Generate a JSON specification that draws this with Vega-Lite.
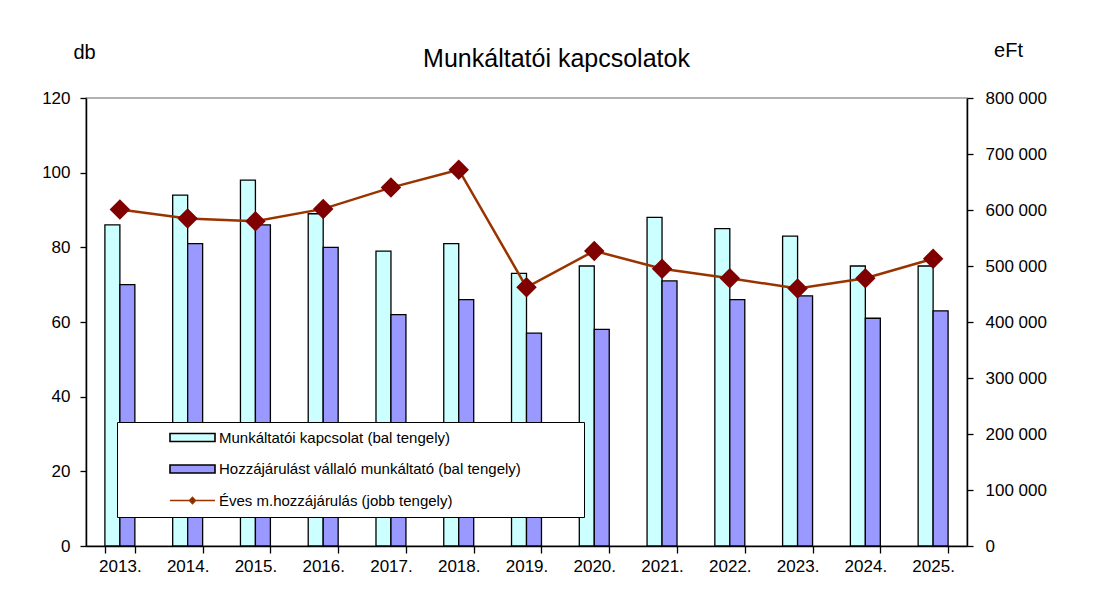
{
  "$schema": "https://vega.github.io/schema/vega-lite/v6.json",
  "width": 881,
  "height": 448,
  "autosize": {"type": "none"},
  "padding": {"left": 86, "top": 98, "right": 132, "bottom": 69},
  "background": "white",
  "title": {
    "text": "Munkáltatói  kapcsolatok",
    "font": "Liberation Sans",
    "fontSize": 25,
    "fontWeight": "normal",
    "color": "black",
    "anchor": "middle",
    "dx": 30,
    "offset": -32
  },
  "datasets": {
    "bars": [
      {"year": "2013.", "series": "Munkáltatói kapcsolat (bal tengely)", "value": 86},
      {"year": "2013.", "series": "Hozzájárulást vállaló munkáltató (bal tengely)", "value": 70},
      {"year": "2014.", "series": "Munkáltatói kapcsolat (bal tengely)", "value": 94},
      {"year": "2014.", "series": "Hozzájárulást vállaló munkáltató (bal tengely)", "value": 81},
      {"year": "2015.", "series": "Munkáltatói kapcsolat (bal tengely)", "value": 98},
      {"year": "2015.", "series": "Hozzájárulást vállaló munkáltató (bal tengely)", "value": 86},
      {"year": "2016.", "series": "Munkáltatói kapcsolat (bal tengely)", "value": 89},
      {"year": "2016.", "series": "Hozzájárulást vállaló munkáltató (bal tengely)", "value": 80},
      {"year": "2017.", "series": "Munkáltatói kapcsolat (bal tengely)", "value": 79},
      {"year": "2017.", "series": "Hozzájárulást vállaló munkáltató (bal tengely)", "value": 62},
      {"year": "2018.", "series": "Munkáltatói kapcsolat (bal tengely)", "value": 81},
      {"year": "2018.", "series": "Hozzájárulást vállaló munkáltató (bal tengely)", "value": 66},
      {"year": "2019.", "series": "Munkáltatói kapcsolat (bal tengely)", "value": 73},
      {"year": "2019.", "series": "Hozzájárulást vállaló munkáltató (bal tengely)", "value": 57},
      {"year": "2020.", "series": "Munkáltatói kapcsolat (bal tengely)", "value": 75},
      {"year": "2020.", "series": "Hozzájárulást vállaló munkáltató (bal tengely)", "value": 58},
      {"year": "2021.", "series": "Munkáltatói kapcsolat (bal tengely)", "value": 88},
      {"year": "2021.", "series": "Hozzájárulást vállaló munkáltató (bal tengely)", "value": 71},
      {"year": "2022.", "series": "Munkáltatói kapcsolat (bal tengely)", "value": 85},
      {"year": "2022.", "series": "Hozzájárulást vállaló munkáltató (bal tengely)", "value": 66},
      {"year": "2023.", "series": "Munkáltatói kapcsolat (bal tengely)", "value": 83},
      {"year": "2023.", "series": "Hozzájárulást vállaló munkáltató (bal tengely)", "value": 67},
      {"year": "2024.", "series": "Munkáltatói kapcsolat (bal tengely)", "value": 75},
      {"year": "2024.", "series": "Hozzájárulást vállaló munkáltató (bal tengely)", "value": 61},
      {"year": "2025.", "series": "Munkáltatói kapcsolat (bal tengely)", "value": 75},
      {"year": "2025.", "series": "Hozzájárulást vállaló munkáltató (bal tengely)", "value": 63}
    ],
    "line": [
      {"year": "2013.", "value": 601000},
      {"year": "2014.", "value": 585000},
      {"year": "2015.", "value": 580000},
      {"year": "2016.", "value": 602000},
      {"year": "2017.", "value": 640000},
      {"year": "2018.", "value": 672000},
      {"year": "2019.", "value": 462000},
      {"year": "2020.", "value": 527000},
      {"year": "2021.", "value": 495000},
      {"year": "2022.", "value": 478000},
      {"year": "2023.", "value": 460000},
      {"year": "2024.", "value": 478000},
      {"year": "2025.", "value": 513000}
    ]
  },
  "encoding": {
    "x": {
      "field": "year",
      "type": "nominal",
      "sort": null,
      "scale": {"paddingInner": 0.558, "paddingOuter": 0.279},
      "axis": {
        "title": null,
        "labelAngle": 0,
        "tickBand": "extent",
        "tickSize": 7,
        "labelPadding": 5
      }
    }
  },
  "layer": [
    {
      "data": {"name": "bars"},
      "mark": {"type": "bar", "stroke": "black", "strokeWidth": 1.3},
      "encoding": {
        "xOffset": {
          "field": "series",
          "type": "nominal",
          "sort": ["Munkáltatói kapcsolat (bal tengely)", "Hozzájárulást vállaló munkáltató (bal tengely)"],
          "scale": {"paddingInner": 0, "paddingOuter": 0}
        },
        "y": {
          "field": "value",
          "type": "quantitative",
          "scale": {"domain": [0, 120]},
          "axis": {
            "values": [0, 20, 40, 60, 80, 100, 120],
            "title": "db",
            "titleAngle": 0,
            "titleAlign": "center",
            "titleBaseline": "middle",
            "titleX": -2,
            "titleY": -46,
            "labelPadding": 10,
            "tickSize": 6
          }
        },
        "color": {
          "field": "series",
          "type": "nominal",
          "scale": {
            "domain": ["Munkáltatói kapcsolat (bal tengely)", "Hozzájárulást vállaló munkáltató (bal tengely)", "Éves m.hozzájárulás (jobb tengely)"],
            "range": ["#CCFFFF", "#9999FF", "#800000"]
          },
          "legend": {
            "orient": "none",
            "legendX": 31,
            "legendY": 324,
            "title": null,
            "padding": 8,
            "fillColor": "white",
            "strokeColor": "black",
            "symbolType": {"expr": "datum.value === 'Éves m.hozzájárulás (jobb tengely)' ? 'M-4.5,0H4.5M0,-0.6L0.6,0L0,0.6L-0.6,0Z' : 'M-4.5,-0.8H4.5V0.8H-4.5Z'"},
            "symbolStrokeColor": {"expr": "datum.value === 'Éves m.hozzájárulás (jobb tengely)' ? '#993300' : 'black'"},
            "symbolStrokeWidth": 1.6,
            "symbolSize": 100,
            "symbolOffset": 60,
            "labelOffset": 19,
            "rowPadding": 15.5,
            "labelFont": "Liberation Sans",
            "labelFontSize": 15,
            "labelColor": "black",
            "labelLimit": 0,
            "labelExpr": "datum.label + '\u2800\u2800\u2800\u2800\u2800'"
          }
        }
      }
    },
    {
      "data": {"name": "line"},
      "encoding": {
        "y": {
          "field": "value",
          "type": "quantitative",
          "scale": {"domain": [0, 800000]},
          "axis": {
            "orient": "right",
            "values": [0, 100000, 200000, 300000, 400000, 500000, 600000, 700000, 800000],
            "labelExpr": "replace(format(datum.value, ','), /,/g, ' ')",
            "title": "eFt",
            "titleAngle": 0,
            "titleAlign": "center",
            "titleBaseline": "middle",
            "titleX": 41,
            "titleY": -48,
            "labelPadding": 12,
            "tickSize": 6
          }
        }
      },
      "layer": [
        {"mark": {"type": "line", "color": "#993300", "strokeWidth": 2.5}},
        {"mark": {"type": "point", "shape": "diamond", "filled": true, "color": "#800000", "size": 420, "opacity": 1}}
      ]
    }
  ],
  "resolve": {"scale": {"y": "independent"}, "axis": {"y": "independent"}},
  "config": {
    "font": "Liberation Sans",
    "view": {"stroke": "#999999", "strokeWidth": 1.5},
    "axis": {
      "grid": false,
      "domainColor": "black",
      "domainWidth": 1.5,
      "tickColor": "black",
      "tickWidth": 1.3,
      "labelFont": "Liberation Sans",
      "labelFontSize": 17,
      "labelColor": "black",
      "titleFont": "Liberation Sans",
      "titleFontSize": 20,
      "titleFontWeight": "normal",
      "titleColor": "black"
    }
  }
}
